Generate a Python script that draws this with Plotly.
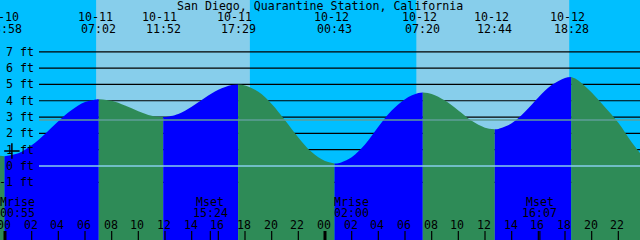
import plotly.graph_objects as go
import pandas as pd

YEAR = "2023"
TITLE = "San Diego, Quarantine Station, California"

# Tide extremes (date, time, height ft)
ext_dates = ["10-10", "10-11", "10-11", "10-11", "10-12", "10-12", "10-12", "10-12"]
ext_clock = ["23:58", "07:02", "11:52", "17:29", "00:43", "07:20", "12:44", "18:28"]
ext_heights = [0.6, 4.1, 3.0, 5.0, 0.15, 4.5, 2.25, 5.45]

# Hourly heights, 10-11 01:00 .. 10-12 23:00
hourly_heights = [0.78, 1.27, 1.96, 2.74, 3.43, 3.92, 4.10, 4.00, 3.71, 3.36, 3.08,
                  3.00, 3.19, 3.63, 4.18, 4.67, 4.96, 4.94, 4.55, 3.80, 2.80, 1.75,
                  0.85, 0.30, 0.17, 0.54, 1.31, 2.40, 3.40, 4.10, 4.47, 4.42, 4.01,
                  3.40, 2.77, 2.35, 2.27, 2.62, 3.33, 4.20, 4.96, 5.40, 5.25, 4.50,
                  3.60, 2.65, 1.45]
edge_times = ["10-10 23:37:30", "10-12 23:37:30"]
edge_heights = [0.62, 0.8]

# Sun: day periods (sunrise, sunset)
sunrise = ["10-11 06:50", "10-12 06:51"]
sunset = ["10-11 18:22", "10-12 18:19"]

# Moon events
moon_labels = ["Mrise", "Mset", "Mrise", "Mset"]
moon_times = ["10-11 00:55", "10-11 15:24", "10-12 02:00", "10-12 16:07"]

ft_levels = [7, 6, 5, 4, 3, 2, 1, 0, -1]
mean_level = 2.82
mark_time = "10-11 00:31"
mark_height = 0.92

FONT = dict(family="DejaVu Sans Mono", size=11.6, color="black")
NIGHT = "#00BFFF"
DAY = "#87CEEB"
RISE = "#0000FF"
FALL = "#2E8B57"
Y_MIN, Y_MAX = -4.54, 10.18
GRID_START = "10-11 02:33"   # grid lines begin right of the ft labels


def ts(s):
    return pd.Timestamp(f"{YEAR}-{s}")


x_start = ts(edge_times[0])
x_end = ts(edge_times[1])

ext_ts = [ts(f"{d} {c}") for d, c in zip(ext_dates, ext_clock)]
hourly_ts = list(pd.date_range(ts("10-11 01:00"), ts("10-12 23:00"), freq="h"))

pts = [(t, h) for t, h in zip(ext_ts, ext_heights)]
pts += [(t, h) for t, h in zip(hourly_ts, hourly_heights)]
pts += [(ts(t), h) for t, h in zip(edge_times, edge_heights)]
pts.sort(key=lambda p: p[0])

fig = go.Figure()

# black level lines (under the water)
for lv in ft_levels:
    if lv == 0:
        continue
    fig.add_trace(go.Scatter(x=[ts(GRID_START), x_end], y=[lv, lv], mode="lines",
                             line=dict(color="black", width=1.2), hoverinfo="skip",
                             showlegend=False))

bounds = [x_start] + ext_ts + [x_end]
for i in range(len(bounds) - 1):
    a, b = bounds[i], bounds[i + 1]
    seg = [p for p in pts if a <= p[0] <= b]
    xs = [p[0] for p in seg]
    ys = [p[1] for p in seg]
    rising = seg[-1][1] > seg[0][1]
    color = RISE if rising else FALL
    fig.add_trace(go.Scatter(x=xs, y=[Y_MIN] * len(xs), mode="lines",
                             line=dict(width=0, color=color), hoverinfo="skip",
                             showlegend=False))
    fig.add_trace(go.Scatter(x=xs, y=ys, mode="lines", fill="tonexty",
                             fillcolor=color, line=dict(width=0, color=color, shape="spline"),
                             hoverinfo="skip", showlegend=False))

# light level lines over the water
fig.add_trace(go.Scatter(x=[ts(GRID_START), x_end], y=[0, 0], mode="lines",
                         line=dict(color=DAY, width=1.5), hoverinfo="skip", showlegend=False))
fig.add_trace(go.Scatter(x=[ts(GRID_START), x_end], y=[mean_level, mean_level], mode="lines",
                         line=dict(color="#5F9E98", width=1.5), hoverinfo="skip",
                         showlegend=False))

fig.add_trace(go.Scatter(x=[ts(mark_time)], y=[mark_height], mode="markers",
                         marker=dict(symbol="cross-thin", size=11,
                                     line=dict(width=1.5, color="black")),
                         hoverinfo="skip", showlegend=False))

shapes = []
for sr, ss in zip(sunrise, sunset):
    shapes.append(dict(type="rect", xref="x", yref="paper", x0=ts(sr), x1=ts(ss),
                       y0=0, y1=1, fillcolor=DAY, line=dict(width=0), layer="below"))

# bottom ticks
tick_times = list(pd.date_range(ts("10-11 00:00"), ts("10-12 22:00"), freq="2h"))
TICK_Y = 9 / 240
for t in tick_times:
    w = 3 if t.hour == 0 else 1.2
    shapes.append(dict(type="line", xref="x", yref="paper", x0=t, x1=t, y0=0, y1=TICK_Y,
                       line=dict(color="black", width=w), layer="above"))
for lab, mt in zip(moon_labels, moon_times):
    if lab == "Mset":
        shapes.append(dict(type="line", xref="x", yref="paper", x0=ts(mt), x1=ts(mt),
                           y0=0, y1=TICK_Y, line=dict(color="black", width=1.2),
                           layer="above"))

ann = []
ann.append(dict(text=TITLE, xref="paper", yref="paper", x=0.5, y=1 - 6 / 240,
                xanchor="center", yanchor="middle", showarrow=False, font=FONT))
for d, c in zip(ext_dates, ext_clock):
    t = ts(f"{d} {c}")
    ann.append(dict(text=d, xref="x", yref="paper", x=t, y=1 - 17 / 240, xshift=-3.5,
                    xanchor="center", yanchor="middle", showarrow=False, font=FONT))
    ann.append(dict(text=c, xref="x", yref="paper", x=t, y=1 - 29 / 240,
                    xanchor="center", yanchor="middle", showarrow=False, font=FONT))
for lv in ft_levels:
    ann.append(dict(text=f"{lv} ft", xref="paper", yref="y", x=36 / 640, y=lv,
                    xanchor="right", yanchor="middle", showarrow=False, font=FONT))
for lab, mt in zip(moon_labels, moon_times):
    t = ts(mt)
    ann.append(dict(text=lab, xref="x", yref="paper", x=t, y=1 - 202 / 240,
                    xanchor="center", yanchor="middle", showarrow=False, font=FONT))
    ann.append(dict(text=mt.split(" ")[1], xref="x", yref="paper", x=t, y=1 - 213 / 240,
                    xanchor="center", yanchor="middle", showarrow=False, font=FONT))
for t in tick_times:
    ann.append(dict(text=t.strftime("%H"), xref="x", yref="paper", x=t, y=1 - 225 / 240,
                    xshift=-1, xanchor="center", yanchor="middle", showarrow=False,
                    font=FONT))

fig.update_layout(
    width=640, height=240, margin=dict(l=0, r=0, t=0, b=0),
    paper_bgcolor=NIGHT, plot_bgcolor=NIGHT,
    xaxis=dict(range=[x_start, x_end], visible=False, fixedrange=True),
    yaxis=dict(range=[Y_MIN, Y_MAX], visible=False, fixedrange=True),
    shapes=shapes, annotations=ann, showlegend=False,
)
fig.write_html("out.html", config={"displayModeBar": False})
